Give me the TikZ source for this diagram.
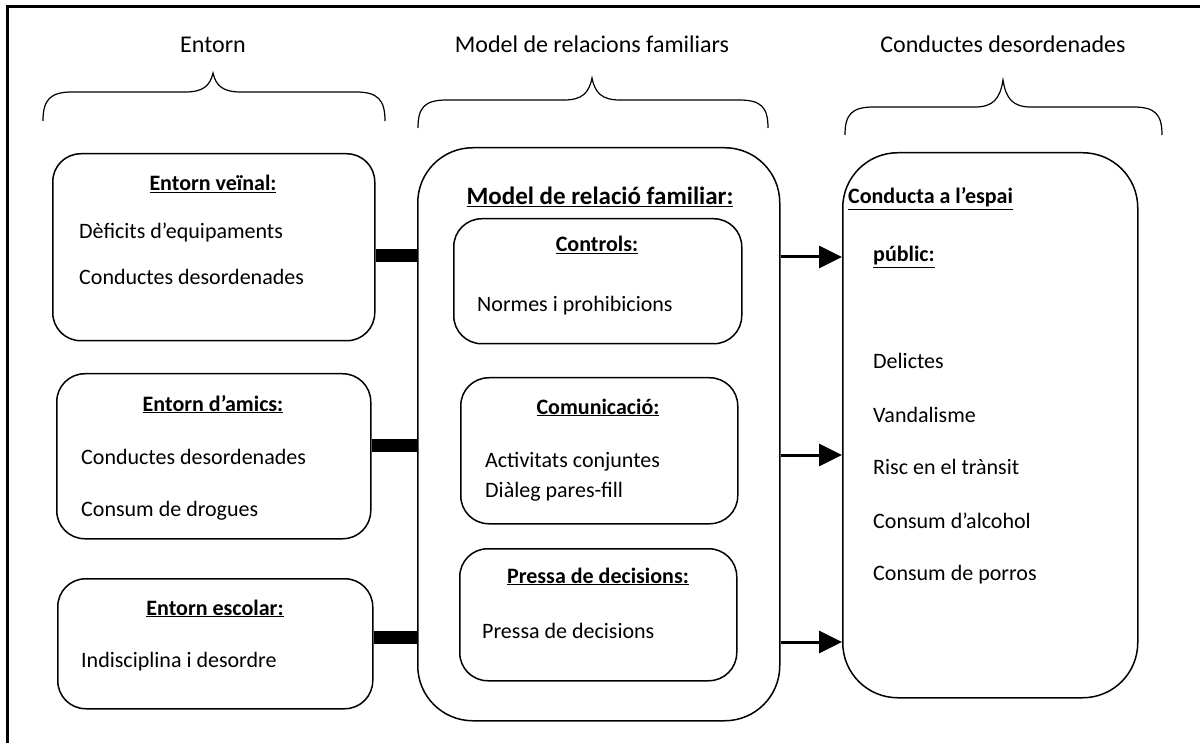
\documentclass[tikz,border=0pt]{standalone}
\usepackage{fontspec}
\setmainfont{Carlito}
\usetikzlibrary{arrows.meta}
\usetikzlibrary{positioning}

\tikzset{
  caixa/.style={draw, line width=1.5pt, rounded corners=28pt, inner sep=0pt, anchor=north west},
  caixagran/.style={caixa, rounded corners=55pt},
  titol/.style={font=\fontsize{22}{26}\selectfont\bfseries, anchor=base, inner sep=0pt},
  item/.style={font=\fontsize{22}{26}\selectfont, anchor=base west, inner sep=0pt},
  capcalera/.style={font=\fontsize{24}{28}\selectfont, anchor=base, inner sep=0pt},
  barra/.style={line width=13pt},
  fletxa/.style={line width=3pt, -{Triangle[length=23pt,width=22pt]}},
  clau/.style={line width=1.2pt}
}

\begin{document}
\begin{tikzpicture}[x=1pt, y=-1pt]

            \useasboundingbox (0,0) rectangle (1200,743);
            \draw [line width=3pt] (7,743) -- (7,7) -- (1200,7);

            % capcaleres
            \path   (213,53) node (hentorn) [capcalera] {Entorn}
                    (592,53) node (hmodel) [capcalera] {Model de relacions familiars}
                    (1003,53) node (hconducta) [capcalera] {Conductes desordenades};

            \draw[clau] (43,121) .. controls (43,100) and (50,92) .. (72,92) -- (185,92)
                        .. controls (203,92) and (210,86) .. (213,73)
                        .. controls (216,86) and (223,92) .. (241,92) -- (356,92)
                        .. controls (378,92) and (385,100) .. (385,121);
            \draw[clau] (418,128) .. controls (418,107) and (425,100) .. (447,100) -- (564,100)
                        .. controls (582,100) and (589,93) .. (592,78)
                        .. controls (595,93) and (602,100) .. (620,100) -- (739,100)
                        .. controls (761,100) and (768,107) .. (768,128);
            \draw[clau] (845,135) .. controls (845,114) and (852,107) .. (874,107) -- (975,107)
                        .. controls (993,107) and (1000,99) .. (1003,80)
                        .. controls (1006,99) and (1013,107) .. (1031,107) -- (1133,107)
                        .. controls (1155,107) and (1162,114) .. (1162,135);

            % entorn
            \path   (52,153) node (veinal) [caixa, minimum width=322pt, minimum height=187pt] {}
                    (56,373) node (amics) [caixa, minimum width=314pt, minimum height=165pt] {}
                    (57,578) node (escolar) [caixa, minimum width=315pt, minimum height=130pt] {};

            \path   (213,191) node (tveinal) [titol] {\underline{Entorn veïnal:}}
                    (79,239) node (iveinala) [item] {Dèficits d’equipaments}
                    (79,285) node (iveinalb) [item] {Conductes desordenades}
                    (213,411) node (tamics) [titol] {\underline{Entorn d’amics:}}
                    (81,464) node (iamicsa) [item] {Conductes desordenades}
                    (81,516) node (iamicsb) [item] {Consum de drogues}
                    (215,615) node (tescolar) [titol] {\underline{Entorn escolar:}}
                    (81,667) node (iescolar) [item] {Indisciplina i desordre};

            % model de relacio familiar
            \path   (417,147) node (model) [caixagran, minimum width=362pt, minimum height=573pt] {}
                    (453,218) node (controls) [caixa, minimum width=288pt, minimum height=125pt] {}
                    (460,377) node (comunicacio) [caixa, minimum width=277pt, minimum height=146pt] {}
                    (459,548) node (pressa) [caixa, minimum width=277pt, minimum height=132pt] {};

            \path   (600,205) node (tmodel) [titol, font=\fontsize{25}{30}\selectfont\bfseries] {\underline{Model de relació familiar:}}
                    (597,252) node (tcontrols) [titol] {\underline{Controls:}}
                    (477,312) node (icontrols) [item] {Normes i prohibicions}
                    (598,414) node (tcomunicacio) [titol] {\underline{Comunicació:}}
                    (485,467) node (icomunicacioa) [item] {Activitats conjuntes}
                    (485,497) node (icomunicaciob) [item] {Diàleg pares-fill}
                    (598,583) node (tpressa) [titol] {\underline{Pressa de decisions:}}
                    (482,638) node (ipressa) [item] {Pressa de decisions};

            % conducta
            \path   (842,152) node (conducta) [caixagran, minimum width=295pt, minimum height=545pt] {};

            \path   (848,204) node (tconductaa) [titol, anchor=base west] {\underline{Conducta a l’espai}}
                    (873,262) node (tconductab) [titol, anchor=base west] {\underline{públic:}}
                    (873,369) node (iconductaa) [item] {Delictes}
                    (873,422) node (iconductab) [item] {Vandalisme}
                    (873,474) node (iconductac) [item] {Risc en el trànsit}
                    (873,528) node (iconductad) [item] {Consum d’alcohol}
                    (873,580) node (iconductae) [item] {Consum de porros};

            \coordinate (b1) at (0,256);
            \coordinate (b2) at (0,445);
            \coordinate (b3) at (0,637);
            \draw[barra] (veinal.east |- b1) -- (model.west |- b1);
            \draw[barra] (amics.east |- b2) -- (model.west |- b2);
            \draw[barra] (escolar.east |- b3) -- (model.west |- b3);

            \coordinate (f1) at (0,257);
            \coordinate (f2) at (0,455);
            \coordinate (f3) at (0,642);
            \draw[fletxa] (model.east |- f1) -- (conducta.west |- f1);
            \draw[fletxa] (model.east |- f2) -- (conducta.west |- f2);
            \draw[fletxa] (model.east |- f3) -- (conducta.west |- f3);

        \end{tikzpicture}
\end{document}
